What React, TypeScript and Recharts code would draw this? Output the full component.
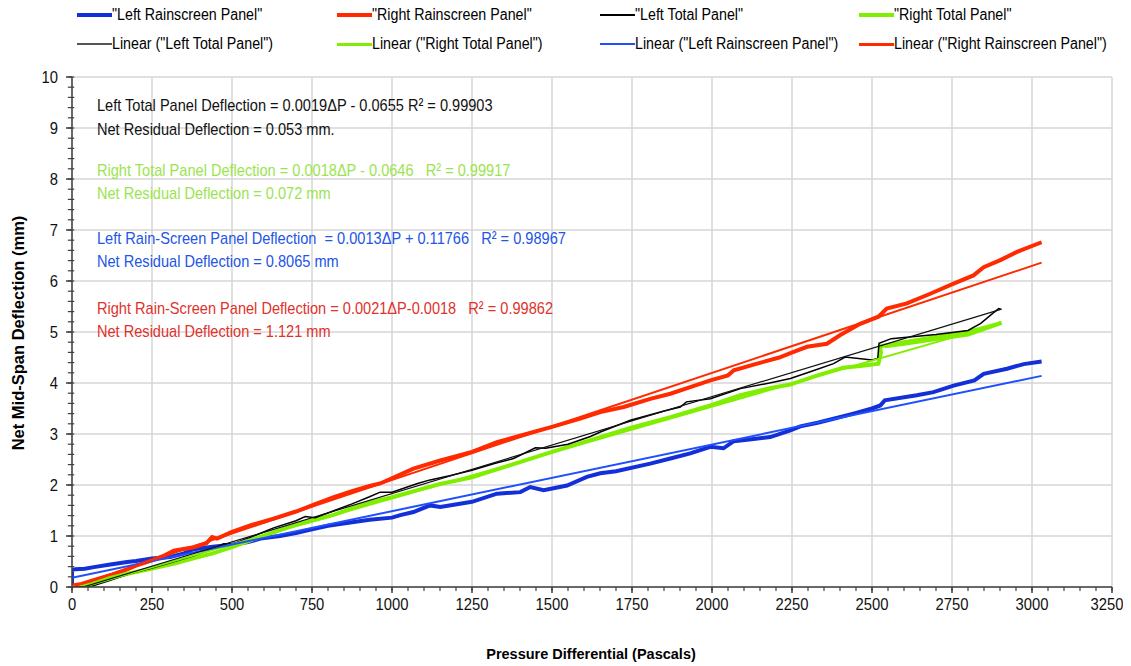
import React from 'react';
import {
  LineChart,
  Line,
  XAxis,
  YAxis,
  CartesianGrid,
  ReferenceLine
} from 'recharts';

// pressure (Pa), net deflection (mm)
const leftRainscreen: [number, number][] = [
  [0, 0.04], [0, 0.33], [10, 0.35], [40, 0.36], [68, 0.39], [120, 0.44], [172, 0.49], [200, 0.51],
  [250, 0.56], [307, 0.59], [350, 0.66], [380, 0.74], [440, 0.79], [500, 0.83], [550, 0.88],
  [589, 0.95], [650, 1.0], [700, 1.06], [750, 1.13], [800, 1.2], [875, 1.27], [930, 1.32],
  [1000, 1.36], [1026, 1.41], [1067, 1.47], [1119, 1.6], [1151, 1.57], [1250, 1.67], [1328, 1.83],
  [1401, 1.86], [1432, 1.96], [1474, 1.9], [1547, 1.99], [1609, 2.16], [1651, 2.23], [1700, 2.27],
  [1807, 2.42], [1870, 2.52], [1932, 2.62], [1995, 2.75], [2036, 2.72], [2068, 2.86], [2130, 2.9],
  [2182, 2.94], [2245, 3.07], [2276, 3.15], [2330, 3.22], [2380, 3.3], [2442, 3.4], [2500, 3.5],
  [2526, 3.56], [2540, 3.66], [2640, 3.76], [2692, 3.82], [2755, 3.95], [2820, 4.05], [2849, 4.18],
  [2922, 4.28], [2974, 4.37], [3030, 4.42]
];

const rightRainscreen: [number, number][] = [
  [0, 0.0], [0, 0.03], [30, 0.06], [60, 0.12], [120, 0.23], [170, 0.34], [200, 0.42], [250, 0.52],
  [290, 0.62], [318, 0.71], [380, 0.78], [420, 0.86], [438, 0.98], [453, 0.95], [500, 1.08],
  [557, 1.21], [630, 1.34], [700, 1.48], [750, 1.6], [818, 1.76], [875, 1.88], [930, 1.98],
  [963, 2.03], [1067, 2.32], [1151, 2.48], [1250, 2.65], [1328, 2.84], [1420, 3.0], [1500, 3.14],
  [1588, 3.3], [1651, 3.43], [1724, 3.53], [1807, 3.69], [1870, 3.79], [1932, 3.92], [1995, 4.05],
  [2050, 4.15], [2068, 4.25], [2141, 4.38], [2210, 4.5], [2255, 4.61], [2297, 4.71], [2359, 4.77],
  [2401, 4.94], [2463, 5.16], [2520, 5.3], [2546, 5.46], [2609, 5.56], [2682, 5.75], [2755, 5.95],
  [2817, 6.11], [2849, 6.27], [2901, 6.41], [2953, 6.57], [3030, 6.76]
];

const leftTotal: [number, number][] = [
  [0, 0], [30, 0], [68, 0.03], [120, 0.13], [180, 0.26], [250, 0.37], [320, 0.5], [380, 0.61],
  [440, 0.74], [474, 0.85], [500, 0.84], [560, 0.98], [630, 1.16], [700, 1.3], [729, 1.38],
  [760, 1.36], [820, 1.5], [875, 1.63], [930, 1.77], [963, 1.86], [1000, 1.86], [1080, 2.03],
  [1119, 2.1], [1180, 2.18], [1250, 2.29], [1320, 2.42], [1380, 2.52], [1448, 2.73], [1480, 2.72],
  [1550, 2.8], [1620, 2.95], [1651, 3.04], [1745, 3.27], [1850, 3.45], [1901, 3.53], [1920, 3.63],
  [1995, 3.69], [2089, 3.89], [2180, 4.0], [2245, 4.09], [2307, 4.22], [2380, 4.38], [2416, 4.51],
  [2500, 4.45], [2518, 4.48], [2522, 4.78], [2560, 4.87], [2700, 4.95], [2800, 5.03], [2840, 5.17],
  [2880, 5.38], [2896, 5.46], [2905, 5.44]
];

const rightTotal: [number, number][] = [
  [0, 0], [30, 0], [60, 0.05], [120, 0.18], [180, 0.27], [250, 0.36], [320, 0.46], [380, 0.56],
  [440, 0.66], [500, 0.78], [560, 0.92], [630, 1.07], [690, 1.2], [750, 1.3], [820, 1.42],
  [875, 1.54], [940, 1.67], [1000, 1.76], [1080, 1.9], [1150, 2.02], [1250, 2.15], [1380, 2.41],
  [1500, 2.65], [1620, 2.88], [1745, 3.12], [1870, 3.33], [1995, 3.56], [2089, 3.76], [2180, 3.9],
  [2244, 3.97], [2330, 4.15], [2410, 4.3], [2470, 4.34], [2520, 4.38], [2528, 4.6], [2525, 4.72],
  [2600, 4.8], [2700, 4.9], [2800, 5.0], [2860, 5.1], [2905, 5.18], [2860, 5.08], [2800, 4.95],
  [2700, 4.86], [2600, 4.77], [2540, 4.72]
];

// trend line end points
const leftTotalFit: [number, number][] = [[35, 0], [2900, 5.44]];
const rightTotalFit: [number, number][] = [[36, 0], [2900, 5.16]];
const leftRainFit: [number, number][] = [[0, 0.18], [3030, 4.14]];
const rightRainFit: [number, number][] = [[0, 0], [3030, 6.36]];

const xTicks = [0, 250, 500, 750, 1000, 1250, 1500, 1750, 2000, 2250, 2500, 2750, 3000, 3250];
const yTicks = [0, 1, 2, 3, 4, 5, 6, 7, 8, 9, 10];
const xMinor = Array.from({ length: 66 }, (_, i) => i * 50);
const yMinor = Array.from({ length: 51 }, (_, i) => Math.round(i * 2) / 10);

const legendRow1 = [
  { name: '"Left Rainscreen Panel"', color: '#1330d8', width: 4 },
  { name: '"Right Rainscreen Panel"', color: '#ff2a00', width: 4 },
  { name: '"Left Total Panel"', color: '#000000', width: 2 },
  { name: '"Right Total Panel"', color: '#80ee00', width: 4 }
];
const legendRow2 = [
  { name: 'Linear ("Left Total Panel")', color: '#555555', width: 2 },
  { name: 'Linear ("Right Total Panel")', color: '#80ee00', width: 3 },
  { name: 'Linear ("Left Rainscreen Panel")', color: '#1f4fff', width: 2 },
  { name: 'Linear ("Right Rainscreen Panel")', color: '#ff2a00', width: 3 }
];
const legendCols = [69, 329, 592, 851];

const notes = [
  { text: 'Left Total Panel Deflection = 0.0019\u0394P - 0.0655 R\u00b2 = 0.99903', y: 98, color: '#111111' },
  { text: 'Net Residual Deflection = 0.053 mm.', y: 122, color: '#111111' },
  { text: 'Right Total Panel Deflection = 0.0018\u0394P - 0.0646\u00a0\u00a0 R\u00b2 = 0.99917', y: 163, color: '#9be44f' },
  { text: 'Net Residual Deflection = 0.072 mm', y: 186, color: '#9be44f' },
  { text: 'Left Rain-Screen Panel Deflection\u00a0 = 0.0013\u0394P + 0.11766\u00a0\u00a0 R\u00b2 = 0.98967', y: 231, color: '#2255e8' },
  { text: 'Net Residual Deflection = 0.8065 mm', y: 254, color: '#2255e8' },
  { text: 'Right Rain-Screen Panel Deflection = 0.0021\u0394P-0.0018\u00a0\u00a0 R\u00b2 = 0.99862', y: 301, color: '#e0322c' },
  { text: 'Net Residual Deflection = 1.121 mm', y: 324, color: '#e0322c' }
];

const toRows = (pts: [number, number][]) => pts.map(([p, d]) => ({ p, d }));

const sans = '"Liberation Sans", Arial, sans-serif';

// narrow-looking tick labels (no condensed font installed)
const NarrowTick = (props: any) => {
  const { x, y, payload, orientation } = props;
  const isX = orientation === 'bottom';
  return (
    <g transform={`translate(${x},${y})`}>
      <text
        transform="scale(0.87,1)"
        textAnchor={isX ? 'middle' : 'end'}
        dy={isX ? 12 : 6}
        fill="#111"
        fontSize={17}
        fontFamily={sans}
      >
        {payload.value}
      </text>
    </g>
  );
};

const App: React.FC = () => {
  const renderLegendRow = (items: typeof legendRow1, top: number) =>
    items.map((item, i) => (
      <div
        key={item.name}
        style={{
          position: 'absolute',
          left: legendCols[i],
          top,
          height: 20,
          display: 'flex',
          alignItems: 'center',
          fontFamily: sans,
          fontSize: 16,
          lineHeight: '20px',
          color: '#000',
          whiteSpace: 'nowrap',
          zIndex: 2
        }}
      >
        <span style={{ display: 'inline-block', width: 35, height: item.width, background: item.color }} />
        <span style={{ display: 'inline-block', transform: 'scaleX(0.89)', transformOrigin: 'left center' }}>
          {item.name}
        </span>
      </div>
    ));

  return (
    <div style={{ position: 'relative', width: 1115, height: 658, background: '#fff' }}>
      {renderLegendRow(legendRow1, -3)}
      {renderLegendRow(legendRow2, 26)}
      <LineChart
        width={1115}
        height={650}
        margin={{ top: 69, right: 11, left: 14, bottom: 41 }}
      >
        <CartesianGrid stroke="#d6d6d6" strokeWidth={1.5} horizontalValues={yTicks} verticalValues={xTicks} />
        <XAxis
          dataKey="p"
          type="number"
          domain={[0, 3250]}
          ticks={xTicks}
          height={30}
          allowDataOverflow
          stroke="#404040"
          strokeWidth={1.5}
          tickSize={6}
          tickMargin={5}
          tick={<NarrowTick />}
        />
        <YAxis
          type="number"
          domain={[0, 10]}
          ticks={yTicks}
          width={50}
          allowDataOverflow
          stroke="#404040"
          strokeWidth={1.5}
          tickSize={6}
          tickMargin={8}
          tick={<NarrowTick />}
        />
        {xMinor.map(v => (
          <ReferenceLine
            key={'xm' + v}
            segment={[{ x: v, y: 0 }, { x: v, y: -0.08 }]}
            stroke="#404040"
            strokeWidth={1.2}
            ifOverflow="visible"
          />
        ))}
        {yMinor.map(v => (
          <ReferenceLine
            key={'ym' + v}
            segment={[{ x: -13, y: v }, { x: 7, y: v }]}
            stroke="#404040"
            strokeWidth={1.2}
            ifOverflow="visible"
          />
        ))}
        <Line data={toRows(leftRainscreen)} dataKey="d" stroke="#1330d8" strokeWidth={4} dot={false} isAnimationActive={false} />
        <Line data={toRows(rightRainscreen)} dataKey="d" stroke="#ff2a00" strokeWidth={4} dot={false} isAnimationActive={false} />
        <Line data={toRows(rightTotal)} dataKey="d" stroke="#80ee00" strokeWidth={4} dot={false} isAnimationActive={false} />
        <Line data={toRows(leftTotal)} dataKey="d" stroke="#000000" strokeWidth={1.5} dot={false} isAnimationActive={false} />
        <Line data={toRows(rightTotalFit)} dataKey="d" stroke="#80ee00" strokeWidth={2} dot={false} isAnimationActive={false} />
        <Line data={toRows(leftRainFit)} dataKey="d" stroke="#1f4fff" strokeWidth={2} dot={false} isAnimationActive={false} />
        <Line data={toRows(rightRainFit)} dataKey="d" stroke="#ff2a00" strokeWidth={2} dot={false} isAnimationActive={false} />
        <Line data={toRows(leftTotalFit)} dataKey="d" stroke="#111111" strokeWidth={1.2} dot={false} isAnimationActive={false} />
      </LineChart>
      {notes.map(n => (
        <div
          key={n.text}
          style={{
            position: 'absolute',
            left: 89,
            top: n.y - 11,
            lineHeight: '22px',
            fontFamily: sans,
            fontSize: 17,
            color: n.color,
            whiteSpace: 'pre',
            transform: 'scaleX(0.857)',
            transformOrigin: 'left center'
          }}
        >
          {n.text}
        </div>
      ))}
      <div
        style={{
          position: 'absolute',
          left: 10,
          top: 325,
          transform: 'translate(-50%, -50%) rotate(-90deg)',
          fontFamily: sans,
          fontWeight: 'bold',
          fontSize: 16.5,
          whiteSpace: 'nowrap',
          color: '#000'
        }}
      >
        Net Mid-Span Deflection (mm)
      </div>
      <div
        style={{
          position: 'absolute',
          left: 583,
          top: 646,
          transform: 'translate(-50%, -50%)',
          fontFamily: sans,
          fontWeight: 'bold',
          fontSize: 14.5,
          whiteSpace: 'nowrap',
          color: '#000'
        }}
      >
        Pressure Differential (Pascals)
      </div>
    </div>
  );
};

export default App;
